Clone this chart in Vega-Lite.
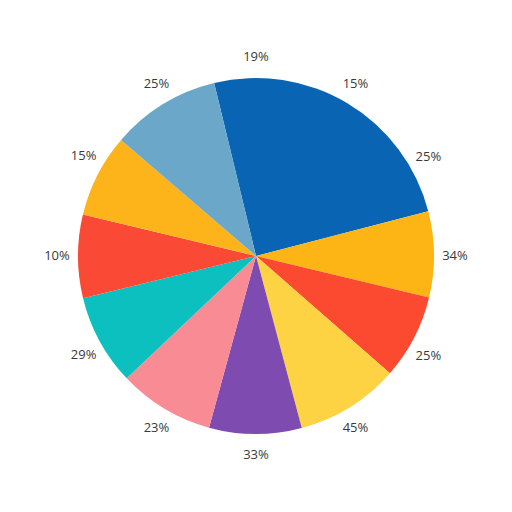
{
  "$schema": "https://vega.github.io/schema/vega-lite/v6.json",
  "width": 512,
  "height": 512,
  "autosize": {"type": "fit", "contains": "padding"},
  "padding": 0,
  "background": "white",
  "config": {"view": {"stroke": null}},
  "layer": [
    {
      "data": {"values": [
        {"idx": 1, "slice": "A", "value": 89.0},
        {"idx": 2, "slice": "B", "value": 28.1},
        {"idx": 3, "slice": "C", "value": 27.7},
        {"idx": 4, "slice": "D", "value": 33.9},
        {"idx": 5, "slice": "E", "value": 30.2},
        {"idx": 6, "slice": "F", "value": 31.3},
        {"idx": 7, "slice": "G", "value": 29.7},
        {"idx": 8, "slice": "H", "value": 27.2},
        {"idx": 9, "slice": "I", "value": 27.2},
        {"idx": 10, "slice": "J", "value": 35.7}
      ]},
      "mark": {"type": "arc", "outerRadius": 178},
      "encoding": {
        "theta": {"field": "value", "type": "quantitative", "stack": true, "scale": {"range": [-0.2374, 6.0458]}},
        "order": {"field": "idx", "type": "quantitative"},
        "color": {
          "field": "slice", "type": "nominal", "legend": null,
          "scale": {
            "domain": ["A","B","C","D","E","F","G","H","I","J"],
            "range": ["#0a64b4","#fdb515","#fc4a30","#fed343","#7e4bb0","#f98b94","#0cc0c0","#fa4a35","#fdb41a","#6aa7c8"]
          }
        }
      }
    },
    {
      "data": {"values": [
        {"pos": 1, "label": "19%", "w": 1},
        {"pos": 2, "label": "15%", "w": 1},
        {"pos": 3, "label": "25%", "w": 1},
        {"pos": 4, "label": "34%", "w": 1},
        {"pos": 5, "label": "25%", "w": 1},
        {"pos": 6, "label": "45%", "w": 1},
        {"pos": 7, "label": "33%", "w": 1},
        {"pos": 8, "label": "23%", "w": 1},
        {"pos": 9, "label": "29%", "w": 1},
        {"pos": 10, "label": "10%", "w": 1},
        {"pos": 11, "label": "15%", "w": 1},
        {"pos": 12, "label": "25%", "w": 1}
      ]},
      "mark": {"type": "text", "radius": 199, "fontSize": 13, "font": "Open Sans", "color": "#3a3a3a"},
      "encoding": {
        "theta": {"field": "w", "type": "quantitative", "stack": true, "scale": {"range": [-0.2618, 6.0214]}},
        "order": {"field": "pos", "type": "quantitative"},
        "text": {"field": "label", "type": "nominal"}
      }
    }
  ],
  "resolve": {"scale": {"theta": "independent"}}
}
